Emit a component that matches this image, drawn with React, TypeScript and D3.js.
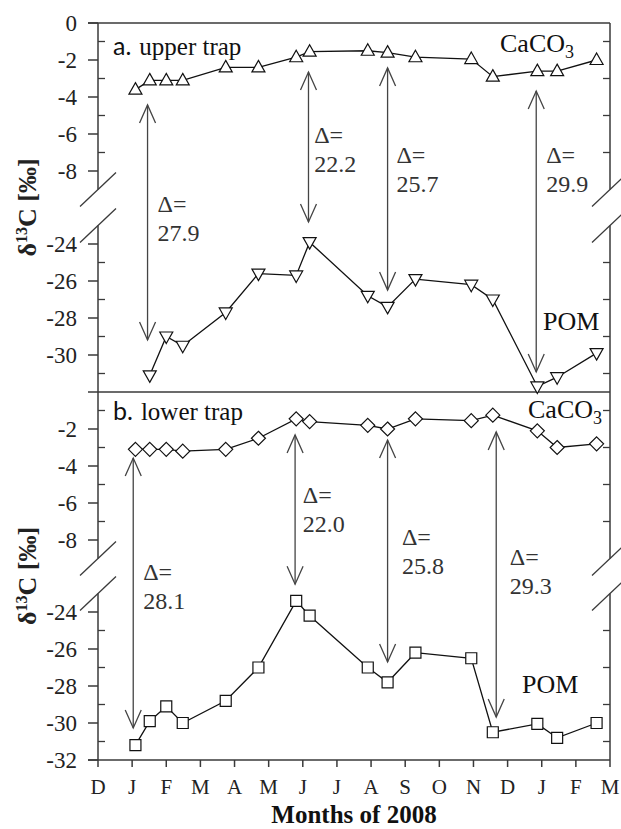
import React from 'react';
import * as d3 from 'd3';

// ---------- data ----------
const sampleDates = [
  '2008-01-04', '2008-01-17', '2008-02-01', '2008-02-15', '2008-03-24', '2008-04-22',
  '2008-05-26', '2008-06-07', '2008-07-29', '2008-08-16', '2008-09-10', '2008-10-30',
  '2008-11-18', '2008-12-28', '2009-01-15', '2009-02-18',
];
const upperCaCO3 = [-3.6, -3.1, -3.1, -3.1, -2.4, -2.4, -1.85, -1.55, -1.5, -1.6, -1.85, -1.95, -2.9, -2.6, -2.6, -2.0];
const upperPOM: (number | null)[] = [null, -31.1, -29.0, -29.5, -27.7, -25.6, -25.7, -23.9, -26.8, -27.4, -25.9, -26.2, -27.0, -31.7, -31.2, -29.9];
const lowerCaCO3 = [-3.1, -3.1, -3.1, -3.2, -3.1, -2.5, -1.45, -1.6, -1.8, -2.0, -1.45, -1.55, -1.25, -2.1, -3.0, -2.8];
const lowerPOM = [-31.2, -29.9, -29.1, -30.0, -28.8, -27.0, -23.4, -24.2, -27.0, -27.8, -26.2, -26.5, -30.5, -30.05, -30.8, -30.0];

const monthLabels = ['D', 'J', 'F', 'M', 'A', 'M', 'J', 'J', 'A', 'S', 'O', 'N', 'D', 'J', 'F', 'M'];
const upperTickLabels = [0, -2, -4, -6, -8, -24, -26, -28, -30];
const lowerTickLabels = [-2, -4, -6, -8, -24, -26, -28, -30, -32];
const minorTicks = [-1, -3, -5, -7, -25, -27, -29, -31];
const yDomain = [0, -9, -23, -32];

// arrows: date, top value, bottom value
const upperArrowDates = ['2008-01-15', '2008-06-06', '2008-08-16', '2008-12-27'];
const upperArrowTop = [-4.43, -2.65, -2.43, -3.68];
const upperArrowBottom = [-29.19, -21.64, -26.49, -30.92];
const lowerArrowDates = ['2008-01-02', '2008-05-25', '2008-08-16', '2008-11-21'];
const lowerArrowTop = [-3.57, -2.32, -2.6, -2.16];
const lowerArrowBottom = [-30.27, -19.3, -26.7, -29.68];

// delta labels
const upperDeltas = ['27.9', '22.2', '25.7', '29.9'];
const upperDeltaDates = ['2008-01-24', '2008-06-11', '2008-08-24', '2009-01-05'];
const upperDeltaY = [-17.75, -6.49, -7.57, -7.57];
const lowerDeltas = ['28.1', '22.0', '25.8', '29.3'];
const lowerDeltaDates = ['2008-01-11', '2008-06-01', '2008-08-29', '2008-12-03'];
const lowerDeltaY = [-17.4, -6.0, -8.27, -11.5];

// ---------- helpers ----------
function monthIndex(s: string): number {
  const [y, m, d] = s.split('-').map(Number);
  const days = new Date(y, m, 0).getDate();
  return (y - 2007) * 12 + (m - 1) - 11 + (d - 1) / days;
}

const W = 621;
const H = 829;
const left = 98;
const right = 610;
const panels = [
  { top: 23, bottom: 392 },
  { top: 392, bottom: 760 },
];

const x = d3.scaleLinear().domain([0, 15]).range([left, right]);
const makeY = (top: number, bottom: number) =>
  d3.scaleLinear().domain(yDomain).range([top, top + 166.5, bottom - 166.5, bottom]);

const serif = '"Liberation Serif", "Times New Roman", serif';
const axisColor = '#3a3a3a';

function triUp(cx: number, cy: number) {
  return `M${cx},${cy - 7}L${cx + 6.5},${cy + 4.5}L${cx - 6.5},${cy + 4.5}Z`;
}
function triDown(cx: number, cy: number) {
  return `M${cx},${cy + 7}L${cx + 6.5},${cy - 4.5}L${cx - 6.5},${cy - 4.5}Z`;
}
function diamond(cx: number, cy: number) {
  return `M${cx},${cy - 7}L${cx + 7},${cy}L${cx},${cy + 7}L${cx - 7},${cy}Z`;
}
function square(cx: number, cy: number) {
  return `M${cx - 5.5},${cy - 5.5}h11v11h-11Z`;
}

type Series = { values: (number | null)[]; marker: (x: number, y: number) => string };

function Panel(props: {
  idx: number;
  tickLabels: number[];
  series: Series[];
  arrowDates: string[];
  arrowTop: number[];
  arrowBottom: number[];
  deltas: string[];
  deltaDates: string[];
  deltaY: number[];
}) {
  const { top, bottom } = panels[props.idx];
  const y = makeY(top, bottom);
  const xs = sampleDates.map(monthIndex);
  const line = d3
    .line<[number, number | null]>()
    .defined((d) => d[1] !== null)
    .x((d) => x(d[0]))
    .y((d) => y(d[1] as number));

  const axisSegs = [
    [0, -9],
    [-23, -32],
  ];
  const breaks = [-9, -23];

  return (
    <g>
      {/* axes */}
      {[left, right].map((ax) =>
        axisSegs.map((s, i) => (
          <line key={`${ax}-${i}`} x1={ax} x2={ax} y1={y(s[0])} y2={y(s[1])} stroke={axisColor} strokeWidth={1.5} />
        ))
      )}
      {[left, right].map((ax) =>
        breaks.map((b) => (
          <line key={`b${ax}-${b}`} x1={ax - 18} x2={ax + 18} y1={y(b) + 17} y2={y(b) - 17} stroke={axisColor} strokeWidth={1.3} />
        ))
      )}
      {/* major ticks + labels */}
      {props.tickLabels.map((t) => (
        <g key={`t${t}`}>
          <line x1={left - 10} x2={left} y1={y(t)} y2={y(t)} stroke={axisColor} strokeWidth={1.5} />
          <text x={77} y={y(t)} dy="0.35em" textAnchor="end" fontFamily={serif} fontSize={23} fill="#222">
            {t}
          </text>
        </g>
      ))}
      {minorTicks.map((t) => (
        <g key={`m${t}`}>
          <line x1={left} x2={left + 7} y1={y(t)} y2={y(t)} stroke={axisColor} strokeWidth={1.3} />
          <line x1={right - 7} x2={right} y1={y(t)} y2={y(t)} stroke={axisColor} strokeWidth={1.3} />
        </g>
      ))}
      {/* arrows */}
      {props.arrowDates.map((d, i) => {
        const ax = x(monthIndex(d));
        const y1 = y(props.arrowTop[i]);
        const y2 = y(props.arrowBottom[i]);
        return (
          <g key={`a${i}`} stroke="#444" strokeWidth={1.3} fill="none">
            <line x1={ax} x2={ax} y1={y1} y2={y2} />
            <path d={`M${ax - 8},${y1 + 18}L${ax},${y1}L${ax + 8},${y1 + 18}`} />
            <path d={`M${ax - 8},${y2 - 18}L${ax},${y2}L${ax + 8},${y2 - 18}`} />
          </g>
        );
      })}
      {/* delta labels */}
      {props.deltas.map((v, i) => {
        const lx = x(monthIndex(props.deltaDates[i]));
        const ly = y(props.deltaY[i]);
        return (
          <text key={`d${i}`} fontFamily={serif} fontSize={24} fill="#333">
            <tspan x={lx} y={ly}>Δ=</tspan>
            <tspan x={lx} y={ly + 29}>{v}</tspan>
          </text>
        );
      })}
      {/* series */}
      {props.series.map((s, si) => {
        const pts: [number, number | null][] = xs.map((m, i) => [m, s.values[i]]);
        return (
          <g key={`s${si}`}>
            <path d={line(pts) || ''} fill="none" stroke="#111" strokeWidth={1.3} />
            {pts
              .filter((p) => p[1] !== null)
              .map((p, i) => (
                <path key={i} d={s.marker(x(p[0]), y(p[1] as number))} fill="#fff" stroke="#111" strokeWidth={1.2} />
              ))}
          </g>
        );
      })}
      {/* y title */}
      <text
        transform={`translate(36,${(top + bottom) / 2}) rotate(-90)`}
        textAnchor="middle"
        fontFamily={serif}
        fontWeight="bold"
        fontSize={26}
        fill="#222"
      >
        δ<tspan dy={-9} fontSize={16}>13</tspan>
        <tspan dy={9}>C [‰]</tspan>
      </text>
    </g>
  );
}

export default function App() {
  const yLow = makeY(panels[1].top, panels[1].bottom);
  return (
    <svg width={W} height={H} style={{ position: 'absolute', left: 0, top: 0, background: '#fff' }}>
      <rect width={W} height={H} fill="#fff" />
      {/* frame lines */}
      <line x1={left - 10} x2={right} y1={23} y2={23} stroke={axisColor} strokeWidth={1.5} />
      <line x1={left - 10} x2={right} y1={392} y2={392} stroke={axisColor} strokeWidth={1.5} />
      <line x1={left - 10} x2={right} y1={760} y2={760} stroke={axisColor} strokeWidth={1.5} />
      <Panel
        idx={0}
        tickLabels={upperTickLabels}
        series={[
          { values: upperCaCO3, marker: triUp },
          { values: upperPOM, marker: triDown },
        ]}
        arrowDates={upperArrowDates}
        arrowTop={upperArrowTop}
        arrowBottom={upperArrowBottom}
        deltas={upperDeltas}
        deltaDates={upperDeltaDates}
        deltaY={upperDeltaY}
      />
      <Panel
        idx={1}
        tickLabels={lowerTickLabels}
        series={[
          { values: lowerCaCO3, marker: diamond },
          { values: lowerPOM, marker: square },
        ]}
        arrowDates={lowerArrowDates}
        arrowTop={lowerArrowTop}
        arrowBottom={lowerArrowBottom}
        deltas={lowerDeltas}
        deltaDates={lowerDeltaDates}
        deltaY={lowerDeltaY}
      />
      {/* x ticks */}
      {monthLabels.map((m, i) => (
        <g key={`x${i}`}>
          <line x1={x(i)} x2={x(i)} y1={760} y2={767} stroke={axisColor} strokeWidth={1.5} />
          <text x={x(i)} y={794} textAnchor="middle" fontFamily={serif} fontSize={21} fill="#222">
            {m}
          </text>
        </g>
      ))}
      <text x={354} y={823} textAnchor="middle" fontFamily={serif} fontWeight="bold" fontSize={25} fill="#111">
        Months of 2008
      </text>
      {/* panel labels */}
      <text x={113} y={55} fontSize={25} fill="#111">
        <tspan fontFamily="Lato, 'Open Sans', sans-serif">a.</tspan>
        <tspan fontFamily={serif} dx={8}>upper trap</tspan>
      </text>
      <text x={113} y={420} fontSize={25} fill="#111">
        <tspan fontFamily="Lato, 'Open Sans', sans-serif">b.</tspan>
        <tspan fontFamily={serif} dx={8}>lower trap</tspan>
      </text>
      <text x={500} y={52} fontFamily={serif} fontSize={26} fill="#111">
        CaCO<tspan dy={6} fontSize={18}>3</tspan>
      </text>
      <text x={543} y={330} fontFamily={serif} fontSize={26} fill="#111">POM</text>
      <text x={528} y={yLow(-1.4)} fontFamily={serif} fontSize={26} fill="#111">
        CaCO<tspan dy={6} fontSize={18}>3</tspan>
      </text>
      <text x={522} y={693} fontFamily={serif} fontSize={26} fill="#111">POM</text>
    </svg>
  );
}
